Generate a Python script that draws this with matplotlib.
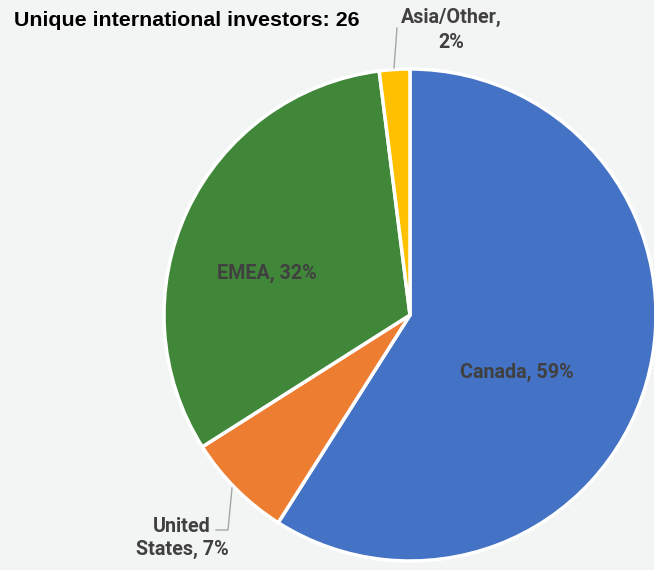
import matplotlib
matplotlib.use("Agg")
import matplotlib.pyplot as plt

categories = ["Canada", "United\nStates", "EMEA", "Asia/Other"]
values = [59, 7, 32, 2]
colors = ["#4472c4", "#ed7d31", "#41873a", "#ffc000"]
title = "Unique international investors: 26"

W, H = 654, 570
fig = plt.figure(figsize=(W / 100, H / 100), dpi=100)
bg = "#f2f5f4"
fig.patch.set_facecolor(bg)
ax = fig.add_axes([0, 0, 1, 1])
ax.set_facecolor(bg)

cx, cy, r = 410, H - 315, 246
wedges, _ = ax.pie(values, colors=colors, startangle=90, counterclock=False,
                   center=(cx, cy), radius=r, frame=True,
                   wedgeprops=dict(edgecolor="white", linewidth=2.5))
ax.set_xlim(0, W)
ax.set_ylim(0, H)
ax.set_aspect("equal")
ax.axis("off")

lab = dict(fontfamily="Roboto", fontweight="bold", color="#404040", fontsize=14.2)

def lbl(i):
    return f"{categories[i]}, {values[i]}%"

ax.text(517, H - 372, lbl(0), ha="center", va="center", **lab)
ax.text(267, H - 273, lbl(2), ha="center", va="center", **lab)
ax.text(182, H - 538, "United\nStates, 7%", ha="center", va="center",
        multialignment="center", linespacing=1.2, **lab)
ax.text(451, H - 30, "Asia/Other,\n2%", ha="center", va="center",
        multialignment="center", linespacing=1.35, **lab)

lc = "#a6a6a6"
ax.plot([394, 397], [H - 68, H - 28], color=lc, lw=1)
ax.plot([232, 228, 216], [H - 488, H - 530, H - 530], color=lc, lw=1)

ax.text(14, H - 21, title, ha="left", va="center", fontfamily="Liberation Sans",
        fontweight="bold", fontsize=15.4, color="black")

fig.savefig("out.png", dpi=100, facecolor=bg)
